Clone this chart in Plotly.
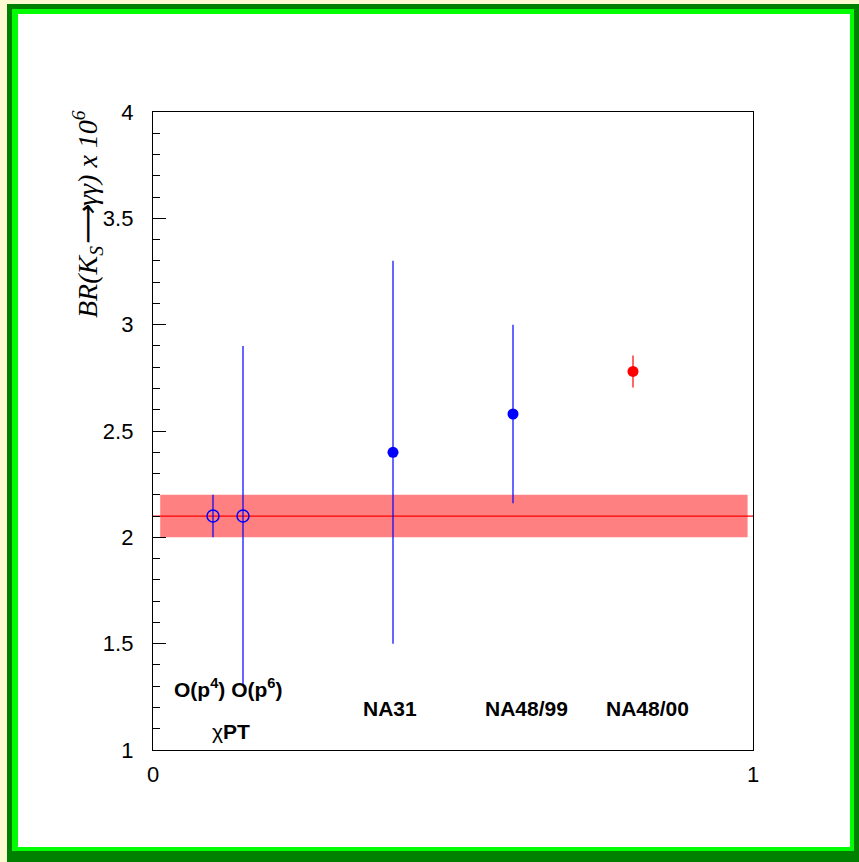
import plotly.graph_objects as go

# ---- data ----
open_labels = ["O(p4)", "O(p6)"]
open_x = [0.10, 0.15]
open_y = [2.10, 2.10]
open_err = [0.10, 0.80]

blue_labels = ["NA31", "NA48/99"]
blue_x = [0.40, 0.60]
blue_y = [2.40, 2.58]
blue_err = [0.90, 0.42]

red_labels = ["NA48/00"]
red_x = [0.80]
red_y = [2.78]
red_err = [0.075]

band_x = [0.012, 0.991]
band_y = [2.0, 2.2]
theory_y = 2.1

text_labels = ["O(p<sup>4</sup>) O(p<sup>6</sup>)", "\u03c7<b>PT</b>", "NA31", "NA48/99", "NA48/00"]
text_x = [0.125, 0.13, 0.395, 0.623, 0.824]
text_y = [1.29, 1.085, 1.197, 1.197, 1.197]

y_ticks = [1, 1.5, 2, 2.5, 3, 3.5, 4]
x_ticks = [0, 1]

# ---- figure geometry ----
W, H = 859, 862
L, R, T, B = 153, 106, 112, 112
pw, ph = W - L - R, H - T - B


def px(x):
    return (x - L) / pw


def py(y):
    return (H - B - y) / ph


fig = go.Figure()

fig.add_trace(go.Scatter(
    x=open_x, y=open_y, mode="markers", name="ChPT",
    marker=dict(symbol="circle-open", size=12, color="#0000ff", line=dict(width=1.5, color="#0000ff")),
    error_y=dict(type="data", array=open_err, color="#0000ff", thickness=1.2, width=0),
))
fig.add_trace(go.Scatter(
    x=blue_x, y=blue_y, mode="markers", name="old",
    marker=dict(symbol="circle", size=11, color="#0000ff"),
    error_y=dict(type="data", array=blue_err, color="#0000ff", thickness=1.2, width=0),
))
fig.add_trace(go.Scatter(
    x=red_x, y=red_y, mode="markers", name="NA48/00",
    marker=dict(symbol="circle", size=11, color="#ff0000"),
    error_y=dict(type="data", array=red_err, color="#ff0000", thickness=1.2, width=0),
))

shapes = [
    # frame
    dict(type="rect", xref="paper", yref="paper", x0=px(7), x1=px(859), y0=py(4), y1=py(862),
         fillcolor="#008000", line=dict(width=0), layer="below"),
    dict(type="rect", xref="paper", yref="paper", x0=px(12), x1=px(854), y0=py(9), y1=py(851),
         fillcolor="#00ff00", line=dict(width=0), layer="below"),
    dict(type="rect", xref="paper", yref="paper", x0=px(18), x1=px(850), y0=py(14), y1=py(847),
         fillcolor="#ffffff", line=dict(width=0), layer="below"),
    # theory band
    dict(type="rect", xref="x", yref="y", x0=band_x[0], x1=band_x[1], y0=band_y[0], y1=band_y[1],
         fillcolor="#ff8080", line=dict(width=0), layer="below"),
    dict(type="line", xref="x", yref="y", x0=0, x1=1, y0=theory_y, y1=theory_y,
         line=dict(color="#ff0000", width=1.3), layer="below"),
]

annotations = []
for t, x, y in zip(text_labels, text_x, text_y):
    annotations.append(dict(
        x=x, y=y, xref="x", yref="y", xanchor="center", yanchor="middle",
        text=t if t.startswith("\u03c7") else "<b>" + t + "</b>",
        showarrow=False, font=dict(family="Liberation Sans, Arial", size=21, color="black"),
    ))
annotations.append(dict(
    x=px(88), y=py(214), xref="paper", yref="paper", xanchor="center", yanchor="middle",
    textangle=-90, showarrow=False,
    text="<i>BR(K<sub>S</sub>\u27f6\u03b3\u03b3) x 10<sup>6</sup></i>",
    font=dict(family="Liberation Serif, Times New Roman", size=28, color="black"),
))

fig.update_layout(
    width=W, height=H,
    margin=dict(l=L, r=R, t=T, b=B, pad=0),
    paper_bgcolor="#fdf9d0",
    plot_bgcolor="rgba(0,0,0,0)",
    showlegend=False,
    shapes=shapes,
    annotations=annotations,
    font=dict(family="Liberation Sans, Arial", size=22, color="black"),
)
fig.update_xaxes(
    range=[0, 1], tickvals=x_ticks, ticktext=[str(v) for v in x_ticks],
    ticks="", showgrid=False, zeroline=False,
    showline=True, linecolor="black", linewidth=1.3, mirror=True,
    tickfont=dict(size=22), ticklabelstandoff=4,
)
fig.update_yaxes(
    range=[1, 4], tickvals=y_ticks, ticktext=["1", "1.5", "2", "2.5", "3", "3.5", "4"],
    ticks="inside", ticklen=13, tickwidth=1, tickcolor="black",
    minor=dict(ticks="inside", dtick=0.1, tick0=1, ticklen=7, tickwidth=1, tickcolor="black", showgrid=False),
    showgrid=False, zeroline=False,
    showline=True, linecolor="black", linewidth=1.3, mirror=True,
    tickfont=dict(size=22), ticklabelstandoff=14,
)

fig.write_html(
    "out.html",
    config={"displayModeBar": False},
    post_script="document.body.style.margin='0';document.body.style.overflow='hidden';",
)
